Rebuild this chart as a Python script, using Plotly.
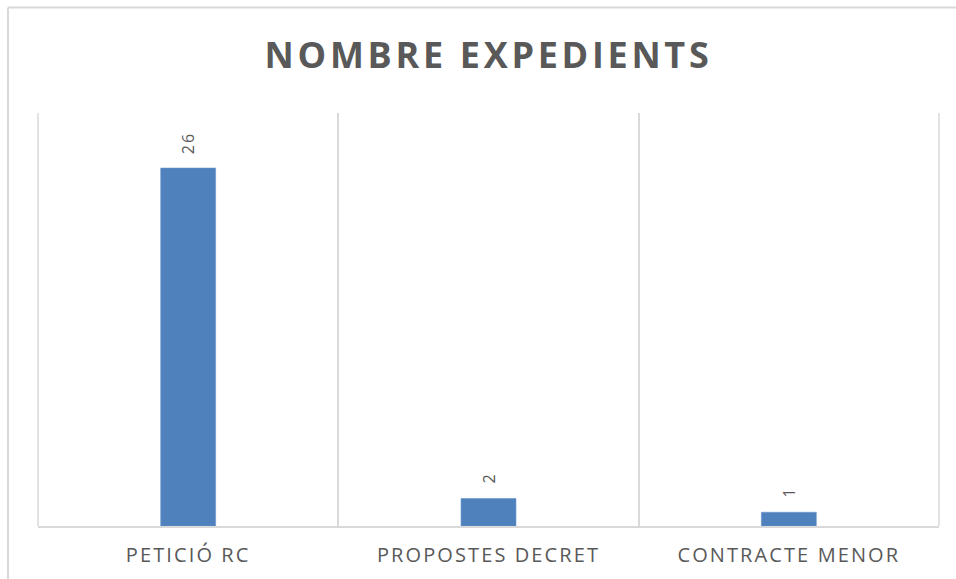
import plotly.graph_objects as go

categories = ["PETICIÓ RC", "PROPOSTES DECRET", "CONTRACTE MENOR"]
values = [26, 2, 1]
title_text = "NOMBRE EXPEDIENTS"

W, H = 956, 579
ML, MR, MT, MB = 38, 17, 113, 53
PW, PH = W - ML - MR, H - MT - MB

GRID = "#d9d9d9"
TXT = "#595959"
BAR = "#4f81bd"

fig = go.Figure()
fig.add_trace(go.Bar(
    x=categories, y=values,
    marker=dict(color=BAR, line=dict(color="#6a95cc", width=0.6)),
    hoverinfo="x+y",
))

for c, v in zip(categories, values):
    fig.add_annotation(
        x=c, y=v, xref="x", yref="y", text=str(v), showarrow=False,
        textangle=-90, yanchor="bottom", xanchor="center", yshift=14,
        font=dict(family="Open Sans", size=16, color=TXT),
    )

def px(x):
    return (x - ML) / PW

def py(y):
    return (H - MB - y) / PH

border = dict(color=GRID, width=2)
fig.add_shape(type="line", xref="paper", yref="paper",
              x0=px(8), x1=px(970), y0=py(7.5), y1=py(7.5), line=border)
fig.add_shape(type="line", xref="paper", yref="paper",
              x0=px(8), x1=px(8), y0=py(7.5), y1=py(600), line=border)
# outer category boundaries of the plot area
for xd in (0, 1):
    fig.add_shape(type="line", xref="x domain", yref="y domain",
                  x0=xd, x1=xd, y0=0, y1=1, line=dict(color=GRID, width=1.5))

fig.update_layout(
    width=W, height=H,
    margin=dict(l=ML, r=MR, t=MT, b=MB),
    paper_bgcolor="white", plot_bgcolor="white",
    bargap=0.817,
    showlegend=False,
    title=dict(
        text=title_text, x=0.5, xref="paper", xanchor="center",
        y=1 - 55 / H, yref="container", yanchor="middle",
        font=dict(family="Open Sans", size=36, color=TXT, weight="bold"),
    ),
    xaxis=dict(
        showgrid=True, gridcolor=GRID, gridwidth=1.5,
        tickson="boundaries", ticks="", showline=True, linecolor=GRID, linewidth=1.5,
        tickfont=dict(family="Open Sans", size=20, color=TXT),
        ticklabelstandoff=10,
    ),
    yaxis=dict(range=[0, 30], showgrid=False, zeroline=False,
               showticklabels=False, ticks="", showline=False),
)

post = """
document.body.style.margin = '0';
document.body.style.padding = '0';
var gd = document.getElementById('{plot_id}');
function sp(){
  gd.querySelectorAll('.gtitle').forEach(function(e){e.style.letterSpacing='3.7px';});
  gd.querySelectorAll('.xtick text').forEach(function(e){e.style.letterSpacing='2.1px';});
  gd.querySelectorAll('.annotation-text').forEach(function(e){e.style.letterSpacing='2px';});
}
sp();
gd.on('plotly_afterplot', sp);
"""

fig.write_html("out.html", post_script=post, config={"displayModeBar": False})
